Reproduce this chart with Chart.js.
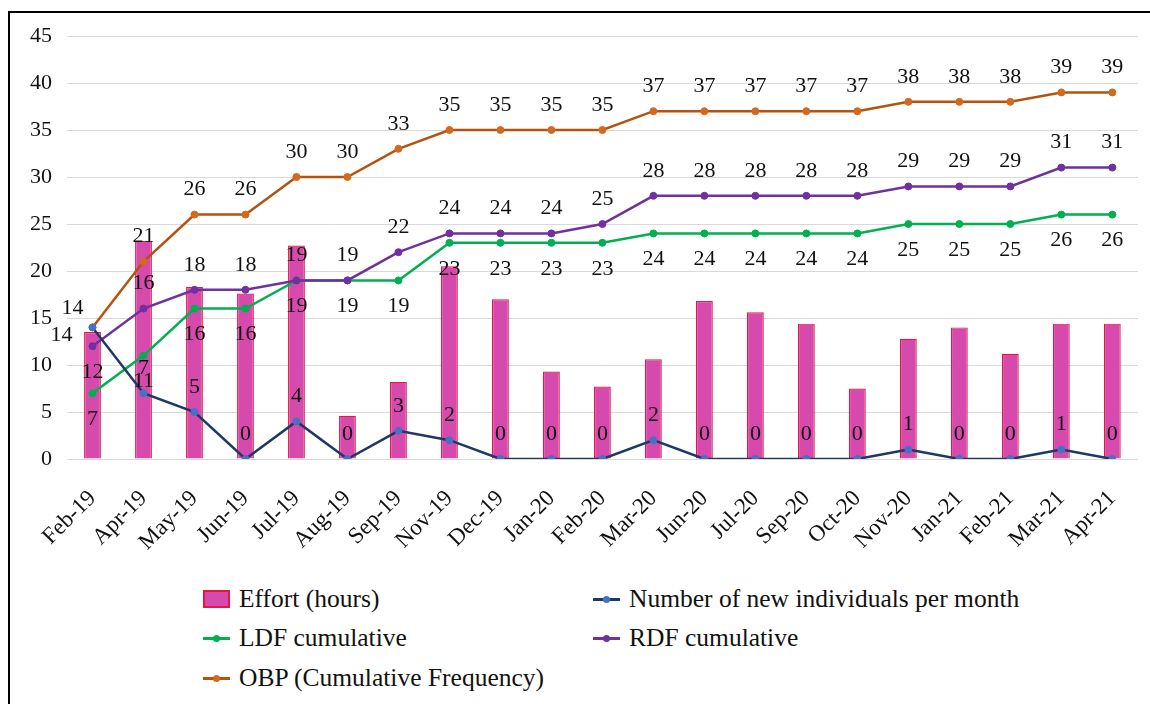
<!DOCTYPE html>
<html>
<head>
<meta charset="utf-8">
<script src="https://cdn.jsdelivr.net/npm/chart.js@4.4.1/dist/chart.umd.min.js"></script>
<style>
  html, body { margin: 0; padding: 0; background: #fff; overflow: hidden; }
  #page { position: relative; width: 1150px; height: 704px; overflow: hidden; }
  #frame { position: absolute; left: 8px; top: 11px; width: 1200px; height: 800px; border: 2px solid #000; }
  #box { position: absolute; left: 0; top: 0; width: 1150px; height: 565px; }
  #legend { position: absolute; left: 203px; top: 579px; display: grid; grid-template-columns: 390px auto;
            grid-auto-rows: 39.5px; font-family: "Liberation Serif", Tinos, "Times New Roman", "DejaVu Serif", serif;
            font-size: 25.5px; color: #111; }
  .item { display: flex; align-items: center; white-space: nowrap; }
  .mark { position: relative; width: 27px; height: 18px; margin-right: 9px; flex: none; }
  .mark .bar { position: absolute; inset: 0; border: 2px solid; box-sizing: border-box; }
  .mark .line { position: absolute; left: 0; right: 0; top: 8px; height: 3px; }
  .mark .dot { position: absolute; left: 10px; top: 6px; width: 7px; height: 7px; border-radius: 50%; }
</style>
</head>
<body>
<div id="page">
  <div id="frame"></div>
  <div id="box"><canvas id="chart1"></canvas></div>
  <div id="legend"></div>
</div>
<script>
/** Données */
const months = ['Feb-19', 'Apr-19', 'May-19', 'Jun-19', 'Jul-19', 'Aug-19', 'Sep-19', 'Nov-19', 'Dec-19', 'Jan-20', 'Feb-20',
                'Mar-20', 'Jun-20', 'Jul-20', 'Sep-20', 'Oct-20', 'Nov-20', 'Jan-21', 'Feb-21', 'Mar-21', 'Apr-21'];
const effortHours = [13.5, 23.2, 18.3, 17.6, 22.7, 4.6, 8.2, 20.5, 17.0, 9.3, 7.7, 10.6, 16.8, 15.6, 14.4, 7.5, 12.8, 14.0, 11.2, 14.4, 14.4];
const newIndividuals = [14, 7, 5, 0, 4, 0, 3, 2, 0, 0, 0, 2, 0, 0, 0, 0, 1, 0, 0, 1, 0];
const ldfCumulative = [7, 11, 16, 16, 19, 19, 19, 23, 23, 23, 23, 24, 24, 24, 24, 24, 25, 25, 25, 26, 26];
const rdfCumulative = [12, 16, 18, 18, 19, 19, 22, 24, 24, 24, 25, 28, 28, 28, 28, 28, 29, 29, 29, 31, 31];
const obpCumulative = [14, 21, 26, 26, 30, 30, 33, 35, 35, 35, 35, 37, 37, 37, 37, 37, 38, 38, 38, 39, 39];
const yTicks = [0, 5, 10, 15, 20, 25, 30, 35, 40, 45];

/** Initialisation */
const serif = '"Liberation Serif", Tinos, "Times New Roman", "DejaVu Serif", serif';
Chart.defaults.font.family = serif;
Chart.defaults.font.size = 22;
Chart.defaults.color = '#111';

generateChart = (id, config) => new Chart(document.getElementById(id), config)

// étiquettes de valeurs (pas de plugin datalabels hors ligne)
const valueLabels = {
    id: 'valueLabels',
    afterDatasetsDraw(chart) {
        const ctx = chart.ctx;
        ctx.save();
        ctx.font = '22px ' + serif;
        ctx.fillStyle = '#111';
        ctx.textAlign = 'center';
        ctx.textBaseline = 'middle';
        chart.data.datasets.forEach((ds, di) => {
            if (!ds.labelPos) return;
            chart.getDatasetMeta(di).data.forEach((pt, i) => {
                const pos = ds.labelPos(i);
                let dx = 0, dy = -25;
                if (pos === 'bottom') dy = 26;
                if (pos === 'left') { dx = -31; dy = 8; }
                if (pos === 'topLeft') { dx = -20; dy = -19; }
                ctx.fillText(String(ds.data[i]), pt.x + dx, pt.y + dy);
            });
        });
        ctx.restore();
    }
};

const lineSet = (label, data, line, point, labelPos, order) => ({
    type: 'line',
    label: label,
    data: data,
    borderColor: line,
    borderWidth: 2.5,
    pointBackgroundColor: point,
    pointBorderColor: point,
    pointRadius: 3.5,
    pointBorderWidth: 1,
    tension: 0,
    labelPos: labelPos,
    order: order
});

const chart = generateChart('chart1', {
    type: 'bar',
    data: {
        labels: months,
        datasets: [
            {
                label: 'Effort (hours)',
                data: effortHours,
                backgroundColor: '#d64aad',
                borderColor: '#e3173f',
                borderWidth: 1.2,
                barPercentage: 0.33,
                categoryPercentage: 1,
                order: 10
            },
            lineSet('Number of new individuals per month', newIndividuals, '#1f3864', '#4472c4', i => i === 0 ? 'left' : 'top', 1),
            lineSet('LDF cumulative', ldfCumulative, '#00b050', '#00b050', i => 'bottom', 3),
            lineSet('RDF cumulative', rdfCumulative, '#7030a0', '#7030a0', i => i === 0 ? 'bottom' : 'top', 2),
            lineSet('OBP (Cumulative Frequency)', obpCumulative, '#b4530f', '#d2691e', i => i === 0 ? 'topLeft' : 'top', 4)
        ]
    },
    options: {
        animation: false,
        responsive: true,
        maintainAspectRatio: false,
        layout: {
            padding: { top: 36, right: 7, left: 0, bottom: 0 }
        },
        plugins: {
            title: { display: false },
            legend: { display: false },
            tooltip: { enabled: false }
        },
        scales: {
            x: {
                grid: { display: false },
                border: { display: false },
                ticks: { maxRotation: 45, minRotation: 45, padding: 18, autoSkip: false, font: { size: 23 } },
                afterFit: scale => { scale.height = 106; }
            },
            y: {
                min: 0,
                max: 45,
                afterBuildTicks: scale => { scale.ticks = yTicks.map(v => ({ value: v })); },
                grid: { color: '#d9d9d9', lineWidth: 1, drawTicks: false },
                border: { display: false },
                ticks: { padding: 15 },
                afterFit: scale => { scale.width = 67; }
            }
        }
    },
    plugins: [valueLabels]
});

/** Légende en HTML, deux colonnes comme la figure */
const legend = document.getElementById('legend');
chart.data.datasets.forEach(ds => {
    const item = document.createElement('div');
    item.className = 'item';
    const mark = document.createElement('span');
    mark.className = 'mark';
    if (ds.type === 'line') {
        mark.innerHTML = '<span class="line"></span><span class="dot"></span>';
        mark.querySelector('.line').style.background = ds.borderColor;
        mark.querySelector('.dot').style.background = ds.pointBackgroundColor;
    } else {
        mark.innerHTML = '<span class="bar"></span>';
        mark.querySelector('.bar').style.background = ds.backgroundColor;
        mark.querySelector('.bar').style.borderColor = ds.borderColor;
    }
    item.appendChild(mark);
    item.appendChild(document.createTextNode(ds.label));
    legend.appendChild(item);
});
</script>
</body>
</html>
